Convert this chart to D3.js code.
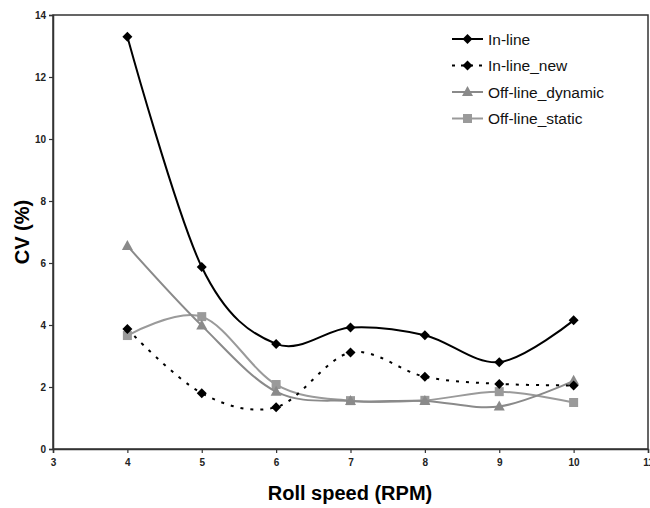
<!DOCTYPE html>
<html>
<head>
<meta charset="utf-8">
<script src="https://cdn.jsdelivr.net/npm/d3@7"></script>
<style>
  body { margin: 0; background: #fff; }
  text { font-family: "Liberation Sans", Arial, sans-serif; }
</style>
</head>
<body>
<div id="chart"></div>
<script>
let speeds = [4, 5, 6, 7, 8, 9, 10];
let inLine = [13.3, 5.87, 3.39, 3.92, 3.67, 2.8, 4.15];
let inLineNew = [3.87, 1.8, 1.35, 3.11, 2.33, 2.1, 2.05];
let offDynamic = [6.55, 3.98, 1.85, 1.55, 1.55, 1.37, 2.2];
let offStatic = [3.66, 4.27, 2.08, 1.56, 1.57, 1.85, 1.5];
let xTicks = [3, 4, 5, 6, 7, 8, 9, 10, 11];
let yTicks = [0, 2, 4, 6, 8, 10, 12, 14];

let series = [
  { name: "In-line", values: inLine, color: "#000", dash: null, marker: "diamond" },
  { name: "In-line_new", values: inLineNew, color: "#000", dash: "3,7", marker: "diamond" },
  { name: "Off-line_dynamic", values: offDynamic, color: "#8a8a8a", dash: null, marker: "triangle" },
  { name: "Off-line_static", values: offStatic, color: "#9a9a9a", dash: null, marker: "square" }
];

let width = 650, height = 508;
let margin = { top: 15, right: 2, bottom: 59, left: 53 };

let svg = d3.select("#chart").append("svg")
  .attr("width", width)
  .attr("height", height);

let x = d3.scaleLinear().domain([3, 11]).range([margin.left, width - margin.right]);
let y = d3.scaleLinear().domain([0, 14]).range([height - margin.bottom, margin.top]);

// frame
svg.append("rect")
  .attr("x", x(3)).attr("y", y(14))
  .attr("width", x(11) - x(3)).attr("height", y(0) - y(14))
  .attr("fill", "none").attr("stroke", "#333").attr("stroke-width", 1.5);

let xAxis = svg.append("g")
  .attr("transform", `translate(0,${y(0)})`)
  .call(d3.axisBottom(x).tickValues(xTicks).tickSize(4).tickPadding(6).tickFormat(d3.format("d")));

let yAxis = svg.append("g")
  .attr("transform", `translate(${x(3)},0)`)
  .call(d3.axisLeft(y).tickValues(yTicks).tickSize(4).tickPadding(3));

[xAxis, yAxis].forEach(a => {
  a.select(".domain").attr("stroke", "#333").attr("stroke-width", 1.5);
  a.selectAll(".tick line").attr("stroke", "#333").attr("stroke-width", 1.2);
  a.selectAll(".tick text")
    .attr("fill", "#222")
    .style("font-size", "10px")
    .style("font-weight", "bold")
    .style("font-family", "Liberation Sans, Arial, sans-serif");
});

// axis titles
svg.append("text")
  .attr("x", 350).attr("y", 500)
  .attr("text-anchor", "middle")
  .style("font-size", "20px").style("font-weight", "bold")
  .text("Roll speed (RPM)");

svg.append("text")
  .attr("transform", `translate(29,${(y(0) + y(14)) / 2}) rotate(-90)`)
  .attr("text-anchor", "middle")
  .style("font-size", "20px").style("font-weight", "bold")
  .text("CV (%)");

let line = d3.line()
  .x((d, i) => x(speeds[i]))
  .y(d => y(d))
  .curve(d3.curveCardinal.tension(0));

function drawMarker(g, type, color, cx, cy) {
  if (type === "diamond") {
    g.append("path").attr("d", `M${cx},${cy - 5}L${cx + 5},${cy}L${cx},${cy + 5}L${cx - 5},${cy}Z`).attr("fill", color);
  } else if (type === "triangle") {
    g.append("path").attr("d", `M${cx},${cy - 6}L${cx + 5.5},${cy + 4}L${cx - 5.5},${cy + 4}Z`).attr("fill", color);
  } else {
    g.append("rect").attr("x", cx - 4.5).attr("y", cy - 4.5).attr("width", 9).attr("height", 9).attr("fill", color);
  }
}

// draw in reverse so black lines sit on top
series.slice().reverse().forEach(s => {
  let g = svg.append("g");
  g.append("path")
    .datum(s.values)
    .attr("d", line)
    .attr("fill", "none")
    .attr("stroke", s.color)
    .attr("stroke-width", 2)
    .attr("stroke-dasharray", s.dash);
  s.values.forEach((v, i) => drawMarker(g, s.marker, s.color, x(speeds[i]), y(v)));
});

// legend
let legend = svg.append("g");
series.forEach((s, i) => {
  let ly = 39 + i * 26.5;
  legend.append("line")
    .attr("x1", 452).attr("x2", 483).attr("y1", ly).attr("y2", ly)
    .attr("stroke", s.color).attr("stroke-width", 2)
    .attr("stroke-dasharray", s.dash ? "3,6" : null);
  drawMarker(legend, s.marker, s.color, 467.5, ly);
  legend.append("text")
    .attr("x", 488).attr("y", ly + 5.5)
    .style("font-size", "15.5px")
    .attr("fill", "#111")
    .text(s.name);
});
</script>
</body>
</html>
